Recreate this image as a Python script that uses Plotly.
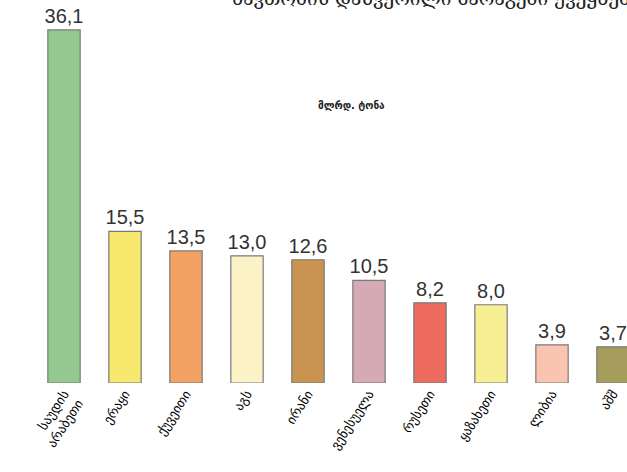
import plotly.graph_objects as go

countries = ["საუდის<br>არაბეთი", "ერაყი", "ქუვეითი", "აგს", "ირანი",
             "ვენესუელა", "რუსეთი", "ყაზახეთი", "ლიბია", "აშშ"]
reserves = [36.1, 15.5, 13.5, 13.0, 12.6, 10.5, 8.2, 8.0, 3.9, 3.7]
unit_label = "მლრდ. ტონა"
title_text = "ნავთობის დაზვერილი მარაგები ქვეყნების მიხედვით"

bar_colors = ["#93c98f", "#f7e96e", "#f4a263", "#fbf3c6", "#c99352",
              "#d5aab4", "#ee6b5f", "#f8ee94", "#f9c4b0", "#a69c5c"]

labels = [f"{v:.1f}".replace(".", ",") for v in reserves]
xpos = list(range(len(countries)))

fig = go.Figure()
fig.add_trace(go.Bar(
    x=xpos, y=reserves, width=0.53,
    marker=dict(color=bar_colors, line=dict(color="#7a7a7a", width=1.2)),
    text=labels, textposition="outside", cliponaxis=False, constraintext="none",
    textfont=dict(family="Liberation Sans, Arial, sans-serif", size=20, color="#333333"),
    hoverinfo="none",
))

fig.add_annotation(text="<b>" + unit_label + "</b>", xref="paper", yref="paper",
                   x=0.56, y=0.745, showarrow=False,
                   font=dict(family="DejaVu Sans", size=10, color="#222222"))
fig.add_annotation(text=title_text, xref="paper", yref="paper",
                   x=230/627, xanchor="left", y=1.005, yanchor="middle", showarrow=False,
                   font=dict(family="DejaVu Serif", size=19, color="#222222"))

fig.update_layout(
    width=627, height=472,
    margin=dict(l=0, r=0, t=0, b=89),
    paper_bgcolor="white", plot_bgcolor="white",
    showlegend=False,
    xaxis=dict(range=[-64/61, (627-64)/61], tickmode="array", tickvals=xpos,
               ticktext=countries, tickangle=-57, showgrid=False, zeroline=False,
               showline=False, ticks="",
               tickfont=dict(family="DejaVu Sans", size=13, color="#000000")),
    yaxis=dict(range=[0, 383/9.78], visible=False, showgrid=False),
)

fig.write_html("out.html", config={"displayModeBar": False},
               post_script="document.body.style.margin='0';document.body.style.overflow='hidden';")
